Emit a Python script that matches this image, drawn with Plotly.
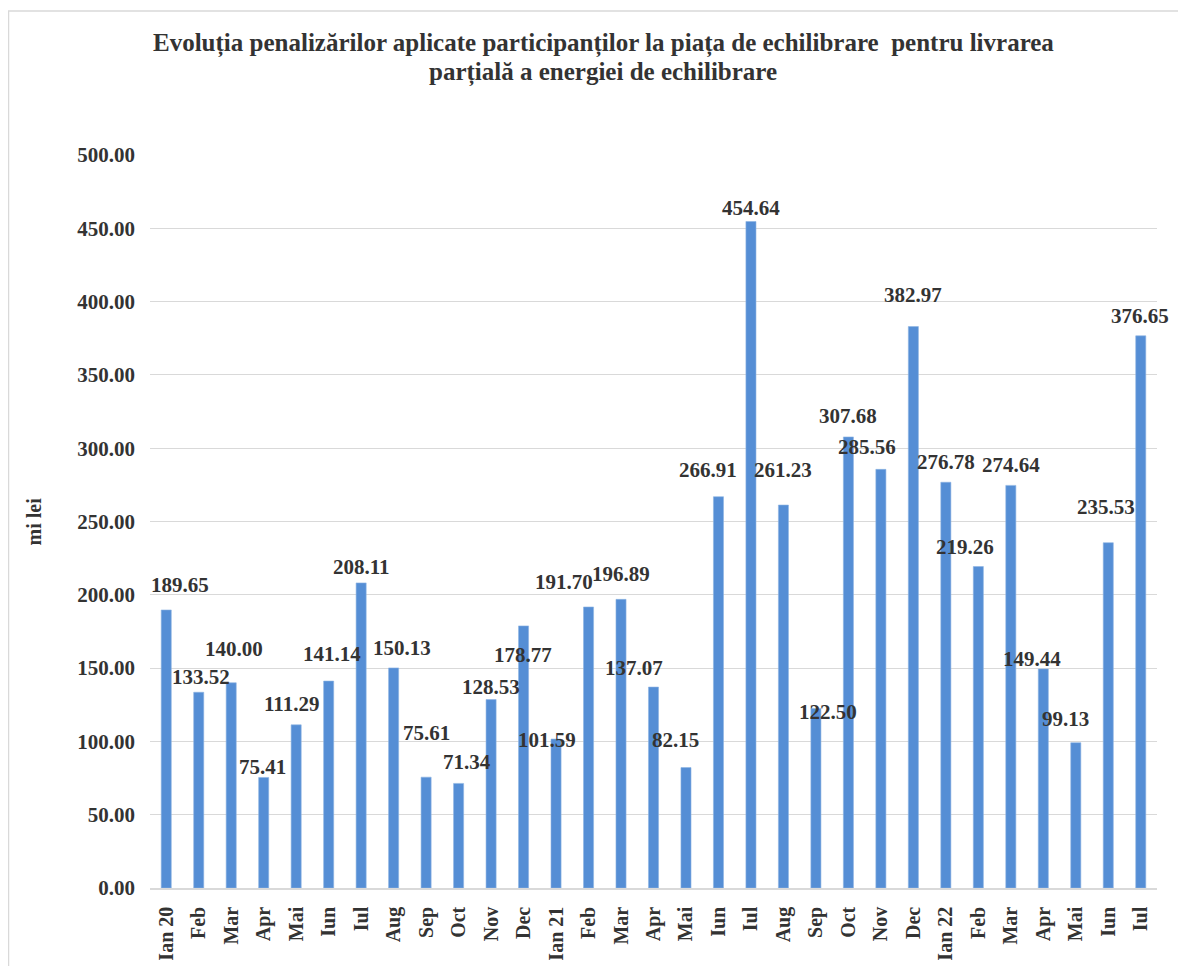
import plotly.graph_objects as go

months = ["Ian 20", "Feb", "Mar", "Apr", "Mai", "Iun", "Iul", "Aug", "Sep", "Oct", "Nov", "Dec",
          "Ian 21", "Feb", "Mar", "Apr", "Mai", "Iun", "Iul", "Aug", "Sep", "Oct", "Nov", "Dec",
          "Ian 22", "Feb", "Mar", "Apr", "Mai", "Iun", "Iul"]
values = [189.65, 133.52, 140.00, 75.41, 111.29, 141.14, 208.11, 150.13, 75.61, 71.34, 128.53, 178.77,
          101.59, 191.70, 196.89, 137.07, 82.15, 266.91, 454.64, 261.23, 122.50, 307.68, 285.56, 382.97,
          276.78, 219.26, 274.64, 149.44, 99.13, 235.53, 376.65]
y_ticks = [0, 50, 100, 150, 200, 250, 300, 350, 400, 450, 500]
title_lines = ["Evoluția penalizărilor aplicate participanților la piața de echilibrare  pentru livrarea",
               "parțială a energiei de echilibrare"]

# label offsets in pixels (style: manual label placement of the original)
label_dx = [14, 2, 3, -1, -5, 3, 0, 8, 0, 8, 0, -1, -9, -25, 0, -20, -10, -10, 0, 0, 12, 0, -14, 0, 0, -13, 0, -11, -10, -2, -1]
label_dy = [25, 15, 34, 10, 21, 27, 16, 20, 44, 21, 13, -29, -1, 25, 25, 19, 28, 27, 14, 35, -4, 21, 22, 32, 20, 20, 20, 10, 24, 36, 20]

idx = list(range(len(months)))
FONT = "Liberation Serif, 'Times New Roman', Times, serif"
TXT = "#333333"

fig = go.Figure()
fig.add_trace(go.Bar(
    x=idx, y=values,
    marker=dict(color="#558ED5", line=dict(color="#8DB3E2", width=0.6)),
    showlegend=False,
))

annotations = []
for i, v in enumerate(values):
    annotations.append(dict(
        x=i, y=v, xref="x", yref="y",
        text=f"<b>{v:.2f}</b>", showarrow=False,
        xanchor="center", yanchor="middle",
        xshift=label_dx[i], yshift=label_dy[i],
        font=dict(family=FONT, size=21, color=TXT),
    ))

# browser adds an 8px body margin; figure is sized so the plot lands where the original's does
W, H = 1170, 958
L, R, T, B = 142, 21, 147, 78
pw, ph = W - L - R, H - T - B

annotations.append(dict(
    x=(25 - L) / pw, y=0.5, xref="paper", yref="paper",
    text="<b>mi lei</b>", textangle=-90, showarrow=False,
    xanchor="center", yanchor="middle",
    font=dict(family=FONT, size=20, color=TXT),
))

# two title lines (set as separate annotations for tighter line spacing)
for k, line in enumerate(title_lines):
    annotations.append(dict(
        x=(595 - L) / pw, y=1 + (T - (36 + 28 * k)) / ph, xref="paper", yref="paper",
        text=f"<b>{line}</b>", showarrow=False,
        xanchor="center", yanchor="middle",
        font=dict(family=FONT, size=25, color=TXT),
    ))

fig.update_layout(
    width=W, height=H,
    margin=dict(l=L, r=R, t=T, b=B),
    paper_bgcolor="white", plot_bgcolor="white",
    bargap=0.69,
    xaxis=dict(
        tickmode="array", tickvals=idx, ticktext=[f"<b>{m}</b>" for m in months],
        tickangle=-90, range=[-0.5, len(months) - 0.5],
        showgrid=False, showline=True, linecolor="#D9D9D9", linewidth=1.5,
        ticks="", ticklabelstandoff=9, automargin=False,
        tickfont=dict(family=FONT, size=20, color=TXT),
        fixedrange=True,
    ),
    yaxis=dict(
        range=[0, 500], tickmode="array", tickvals=y_ticks,
        ticktext=[f"<b>{t:.2f}</b>" for t in y_ticks],
        showgrid=True, gridcolor="#D9D9D9", gridwidth=1.2,
        zeroline=False, showline=False, ticks="", ticklabelstandoff=14, automargin=False,
        tickfont=dict(family=FONT, size=21, color=TXT),
    ),
    annotations=annotations,
    shapes=[dict(
        type="rect", xref="paper", yref="paper",
        x0=(0.5 - L) / pw, x1=(W + 10 - L) / pw,
        y0=-(H + 10 - T - ph) / ph, y1=1 + (T - 3) / ph,
        line=dict(color="#D9D9D9", width=1.5), fillcolor="rgba(0,0,0,0)", layer="below",
    )],
)

fig.write_html("out.html")
